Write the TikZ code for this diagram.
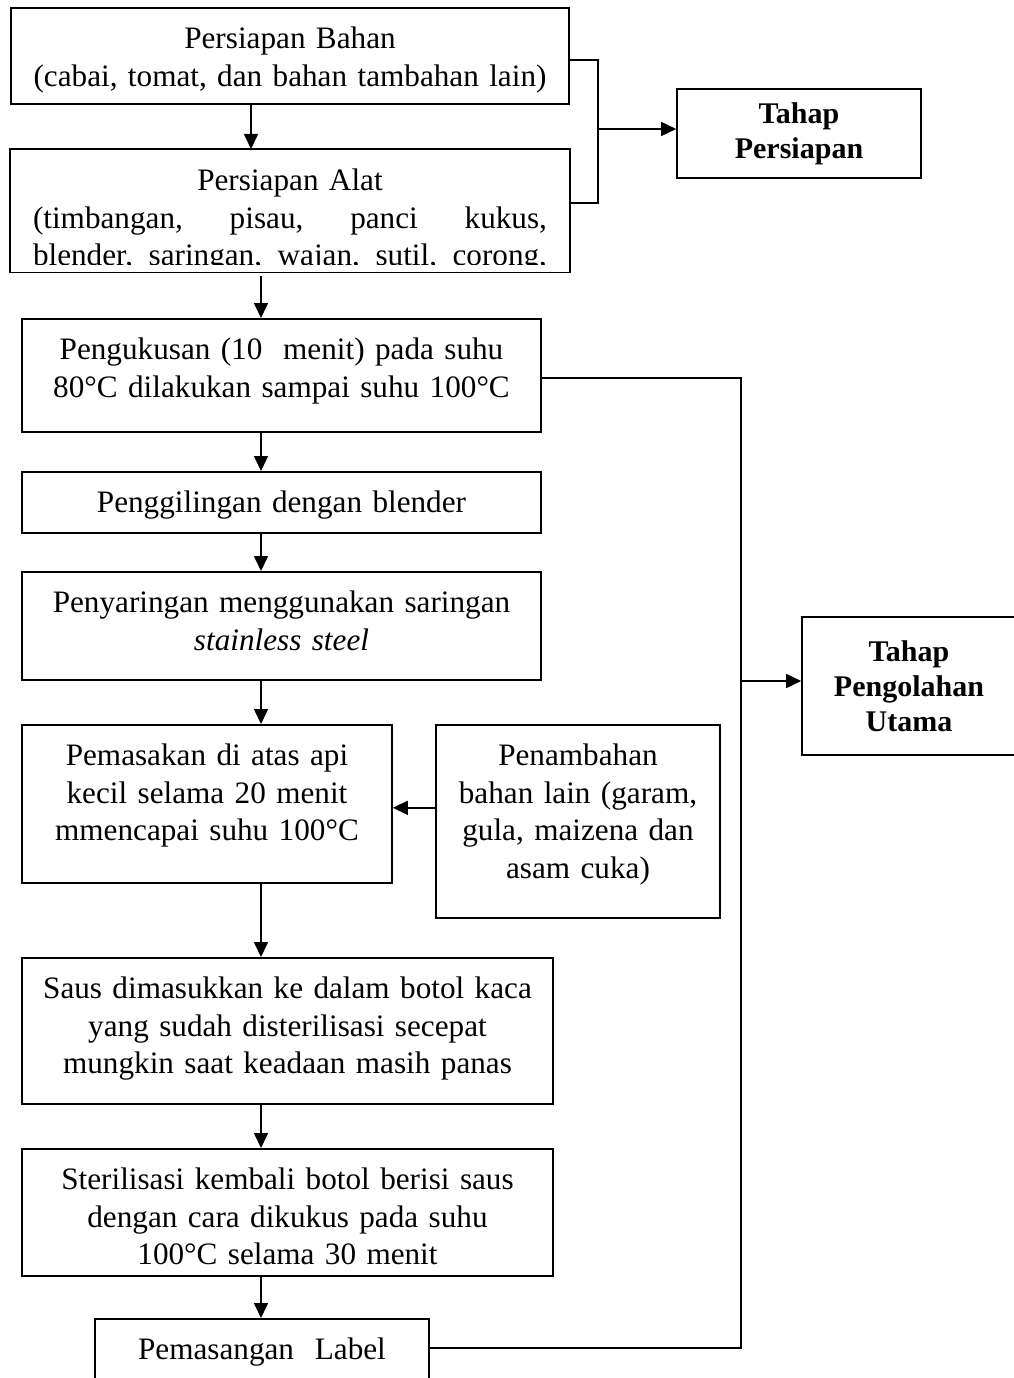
\documentclass[tikz,border=0pt]{standalone}
\usepackage{fontspec}
\setmainfont{Liberation Serif}
\usetikzlibrary{arrows.meta}

\begin{document}
\begin{tikzpicture}[
        x=1pt,
        y=-1pt,
        font=\fontsize{31.2}{37.5}\selectfont,
        block/.style={
            rectangle,
            draw,
            line width=1.6pt,
            inner sep=0pt,
            anchor=north,
            align=center,
            text height=41pt
        },
        phase/.style={
            rectangle,
            draw,
            line width=1.6pt,
            align=center,
            font=\fontsize{30}{35}\selectfont\bfseries
        },
        line/.style={
            draw,
            line width=1.6pt,
            -{Triangle[length=15pt,width=14pt]}
        },
        wire/.style={
            draw,
            line width=1.6pt
        },
      ]
        \useasboundingbox (0,0) rectangle (1014,1378);
        \clip (0,0) rectangle (1014,1378);
        \coordinate (spineA) at (251,0);
        \coordinate (spine) at (261,0);
        \coordinate (brace) at (598,129);
        \coordinate (trunk) at (741,681);
        % tahap persiapan
        \node [block,minimum width=558pt,text width=534pt,text depth=55pt] (bahan) at (290,7) {Persiapan Bahan\\(cabai, tomat, dan bahan tambahan lain)};
        \node [block,draw=none,minimum width=558pt,text width=514pt,text depth=81pt] (alat) at (290,149) {Persiapan Alat\\\makebox[\linewidth][s]{(timbangan,\hfill pisau,\hfill panci\hfill kukus,}\\\makebox[\linewidth][s]{blender,\hfill saringan,\hfill wajan,\hfill sutil,\hfill corong,}};
        \fill [white] ([shift={(0pt,0pt)}]alat.south west) rectangle ([shift={(0pt,8pt)}]alat.south east);
        \draw [line width=1.6pt] (alat.south west) rectangle (alat.north east);
        \node [phase,minimum width=244pt,minimum height=89pt] (persiapan) at (799,133.5) {Tahap\\Persiapan};
        % tahap pengolahan utama
        \node [block,minimum width=519pt,text width=495pt,text depth=72pt] (kukus) at (281.5,318) {Pengukusan (10\ \ menit) pada suhu\\80°C dilakukan sampai suhu 100°C};
        \node [block,minimum width=519pt,text width=495pt,text depth=20pt] (giling) at (281.5,471) {Penggilingan dengan blender};
        \node [block,minimum width=519pt,text width=495pt,text depth=67pt] (saring) at (281.5,571) {Penyaringan menggunakan saringan\\\textit{stainless steel}};
        \node [block,minimum width=370pt,text width=350pt,text depth=117pt] (masak) at (207,724) {Pemasakan di atas api\\kecil selama 20 menit\\mmencapai suhu 100°C};
        \node [block,minimum width=284pt,text width=264pt,text depth=152pt] (tambah) at (578,724) {Penambahan\\bahan lain (garam,\\gula, maizena dan\\asam cuka)};
        \node [block,minimum width=531pt,text width=511pt,text depth=105pt] (saus) at (287.5,957) {Saus dimasukkan ke dalam botol kaca\\yang sudah disterilisasi secepat\\mungkin saat keadaan masih panas};
        \node [block,minimum width=531pt,text width=511pt,text depth=86pt] (steril) at (287.5,1148) {Sterilisasi kembali botol berisi saus\\dengan cara dikukus pada suhu\\100°C selama 30 menit};
        \node [block,minimum width=334pt,text width=310pt,text depth=41pt] (label) at (262,1318) {Pemasangan\ \ Label};
        \node [phase,minimum width=214pt,minimum height=138pt] (utama) at (909,686) {Tahap\\Pengolahan\\Utama};
        \path [line] (bahan.south -| spineA) -- (alat.north -| spineA);
        \path [line] ([yshift=-3pt]alat.south -| spine) -- (kukus.north -| spine);
        \path [line] (kukus.south -| spine) -- (giling.north -| spine);
        \path [line] (giling.south -| spine) -- (saring.north -| spine);
        \path [line] (saring.south -| spine) -- (masak.north -| spine);
        \path [line] ([yshift=-4pt]tambah.west |- masak.east) -- ([yshift=-4pt]masak.east);
        \path [line] (masak.south -| spine) -- (saus.north -| spine);
        \path [line] (saus.south -| spine) -- (steril.north -| spine);
        \path [line] (steril.south -| spine) -- (label.north -| spine);
        \path [wire] ([yshift=-4pt]bahan.east) -| (brace) |- ([yshift=8pt]alat.east);
        \path [line] (brace) -- (persiapan.west |- brace);
        \path [wire] ([yshift=-2.5pt]kukus.east) -| (trunk) |- ([yshift=12pt]label.east);
        \path [line] (trunk) -- (utama.west |- trunk);
      \end{tikzpicture}
\end{document}
